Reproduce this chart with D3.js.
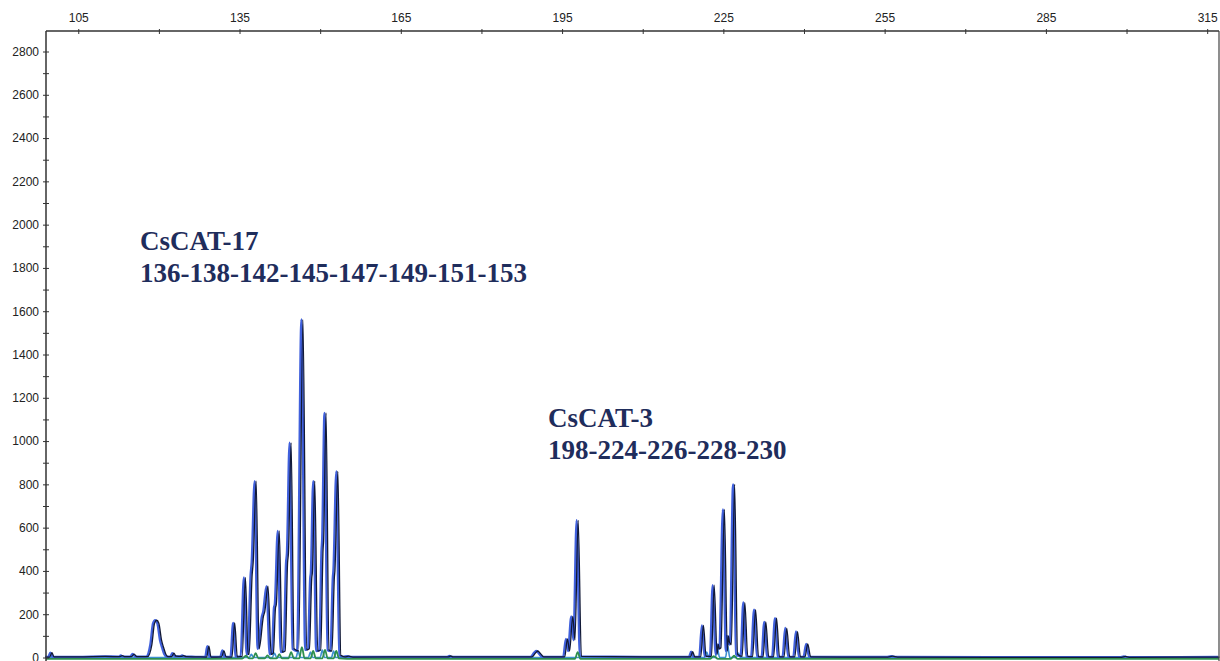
<!DOCTYPE html>
<meta charset="utf-8">
<style>
    body { margin: 0; background: #fff; }
    .axis text { font: 12px "Liberation Sans", Arial, sans-serif; fill: #222; }
    .axis path, .axis line { stroke: #333; }
    .label { font-family: "Liberation Serif", "Times New Roman", serif; font-weight: bold; fill: #1f2d5c; }
</style>
<script src="https://d3js.org/d3.v7.min.js"></script>
<div id="chart"></div>
<script>

    // size (bp) ticks on top, RFU ticks on left
    var sizeTicks = [105, 135, 165, 195, 225, 255, 285, 315];
    var sizeMinor = [120, 150, 180, 210, 240, 270, 300];
    var rfuTicks = [0, 200, 400, 600, 800, 1000, 1200, 1400, 1600, 1800, 2000, 2200, 2400, 2600, 2800];
    var rfuMinor = [100, 300, 500, 700, 900, 1100, 1300, 1500, 1700, 1900, 2100, 2300, 2500, 2700];

    // blue dye trace, [size, rfu]
    var blueTrace = [
        [99, 2], [99.6, 2], [100.0, 22], [100.4, 3], [105, 3], [110, 5],
        [112.7, 4], [113.1, 9], [113.5, 4], [114.8, 4], [115.3, 16], [115.8, 4],
        [117.8, 4], [118.6, 60], [119.1, 158], [119.5, 172], [119.9, 158], [120.4, 80], [120.8, 45], [121.2, 15], [121.6, 4],
        [122.3, 4], [122.7, 20], [123.1, 6], [124.1, 5], [124.5, 9], [125.0, 4], [127, 3],
        [128.8, 2], [129.2, 52], [129.6, 2], [131.6, 3], [132.0, 32], [132.4, 3],
        [133.5, 2], [134.0, 160], [134.5, 3],
        [135.4, 5], [136.0, 370], [136.5, 15],
        [136.7, 15], [137.25, 380], [137.45, 440], [138.0, 815], [138.55, 40],
        [139.35, 190], [139.6, 212], [140.2, 330], [140.8, 15],
        [141.2, 20], [141.6, 230], [141.75, 245], [142.3, 585], [142.85, 25],
        [143.4, 30], [143.85, 440], [144.0, 480], [144.5, 992], [145.05, 40],
        [145.9, 30], [146.7, 1562], [147.4, 35],
        [147.9, 40], [148.35, 370], [148.45, 390], [148.9, 815], [149.45, 30],
        [150.0, 35], [150.45, 500], [150.55, 540], [151.0, 1130], [151.55, 35],
        [152.1, 30], [152.55, 370], [152.65, 400], [153.2, 860], [153.75, 10],
        [154.5, 3], [155.2, 6], [156, 2], [170, 3],
        [173.8, 3], [174.2, 7], [174.6, 3],
        [189.3, 3], [190.0, 22], [190.4, 30], [190.9, 18], [191.5, 3],
        [195.4, 3], [195.9, 86], [196.3, 30], [196.9, 190], [197.3, 80], [197.9, 634], [198.5, 5],
        [210, 3], [218.8, 3], [219.2, 27], [219.6, 3],
        [220.7, 3], [221.2, 148], [221.7, 5],
        [222.7, 5], [223.2, 334], [223.75, 15], [223.95, 62], [224.15, 40], [224.45, 45],
        [225.1, 684], [225.65, 30], [225.85, 100], [226.05, 70], [226.4, 60],
        [227.0, 800], [227.55, 15],
        [228.4, 5], [228.9, 254], [229.45, 5],
        [230.35, 4], [230.9, 221], [231.45, 4],
        [232.3, 3], [232.8, 164], [233.35, 3],
        [234.25, 3], [234.8, 182], [235.35, 3],
        [236.2, 3], [236.7, 136], [237.25, 3],
        [238.2, 3], [238.7, 120], [239.25, 3],
        [240.1, 3], [240.6, 63], [241.15, 3],
        [250, 2], [255.5, 2], [256.4, 6], [257.3, 2], [275, 1],
        [299, 1], [299.7, 5], [300.4, 1], [317.2, 2]
    ];

    // light blue (stutter) trace
    var cyanTrace = [
        [99, 0], [136.8, 0], [137.2, 15], [137.6, 0], [141.1, 0], [141.5, 20], [141.9, 0],
        [145.5, 0], [145.9, 30], [146.3, 0], [147.8, 0], [148.2, 25], [148.6, 0],
        [150.0, 0], [150.4, 35], [150.8, 0], [152.1, 0], [152.5, 30], [152.9, 0],
        [221.5, 0], [221.9, 25], [222.3, 0], [223.5, 0], [223.9, 40], [224.3, 0],
        [225.4, 0], [225.8, 55], [226.2, 0], [227.4, 0], [227.8, 20], [228.2, 0], [317.2, 0]
    ];

    // green dye trace
    var greenTrace = [
        [99, -6], [130, -6], [135.5, -5], [136.2, 8], [136.8, -4], [137.5, -4], [138.0, 20], [138.5, -4],
        [139.7, -4], [140.2, 10], [140.7, -4], [141.9, -4], [142.4, 15], [142.9, -4],
        [144.1, -4], [144.6, 25], [145.1, -4], [146.1, -4], [146.6, 48], [147.1, -4],
        [148.2, -4], [148.7, 30], [149.2, -4], [150.4, -4], [150.9, 35], [151.4, -4],
        [152.5, -4], [153.0, 30], [153.5, -4], [155, -6],
        [197.4, -6], [197.9, 25], [198.4, -6],
        [222.5, -6], [223.2, 6], [224, -6], [226.4, -6], [227.0, 8], [227.6, -6], [317.2, -6]
    ];

    var width = 1220, height = 661;
    var plotTop = 31;

    var svg = d3.select("#chart")
        .append("svg")
        .attr("width", width)
        .attr("height", height);

    var x = d3.scaleLinear()
        .domain([99, 317.2])
        .range([46, 1219]);

    var y = d3.scaleLinear()
        .domain([0, 2800])
        .range([657.5, 51.5]);

    var line = d3.line()
        .x(function (d) { return x(d[0]); })
        .y(function (d) { return y(d[1]); })
        .curve(d3.curveMonotoneX);

    var plot = svg.append("g");

    plot.append("path")
        .datum(cyanTrace)
        .attr("d", line)
        .attr("fill", "none")
        .attr("stroke", "#3d8fd0")
        .attr("stroke-width", 1.6);

    plot.append("path")
        .datum(blueTrace)
        .attr("d", line)
        .attr("transform", "translate(-1,0)")
        .attr("fill", "none")
        .attr("stroke", "#4060dc")
        .attr("stroke-width", 2.4);

    plot.append("path")
        .datum(blueTrace)
        .attr("d", line)
        .attr("transform", "translate(0.5,0)")
        .attr("fill", "none")
        .attr("stroke", "#111936")
        .attr("stroke-width", 1.3);

    plot.append("path")
        .datum(greenTrace)
        .attr("d", line)
        .attr("fill", "none")
        .attr("stroke", "#2f8f4e")
        .attr("stroke-width", 1.8);

    // top axis
    var xAxis = svg.append("g")
        .attr("class", "axis")
        .attr("transform", "translate(0," + plotTop + ")")
        .call(d3.axisTop(x).tickValues(sizeTicks).tickSize(3).tickPadding(6).tickSizeOuter(0));
    var xMinor = svg.append("g")
        .attr("class", "axis")
        .attr("transform", "translate(0," + plotTop + ")")
        .call(d3.axisTop(x).tickValues(sizeMinor).tickSize(3).tickFormat("").tickSizeOuter(0));
    xMinor.select(".domain").remove();
    xAxis.selectAll(".tick line").attr("y1", 3).attr("y2", -2);
    xMinor.selectAll(".tick line").attr("y1", 3).attr("y2", -2);
    xAxis.select(".domain").attr("d", "M" + x(99) + ",0H" + x(317.2)).attr("stroke-width", 1.5);

    // left axis
    var yAxis = svg.append("g")
        .attr("class", "axis")
        .attr("transform", "translate(" + x(99) + ",0)")
        .call(d3.axisLeft(y).tickValues(rfuTicks).tickFormat(d3.format("d")).tickSize(3).tickPadding(4).tickSizeOuter(0));
    var yMinor = svg.append("g")
        .attr("class", "axis")
        .attr("transform", "translate(" + x(99) + ",0)")
        .call(d3.axisLeft(y).tickValues(rfuMinor).tickSize(3).tickFormat("").tickSizeOuter(0));
    yMinor.select(".domain").remove();
    yAxis.selectAll(".tick line").attr("x1", 3).attr("x2", -3);
    yMinor.selectAll(".tick line").attr("x1", 3).attr("x2", -3);
    yAxis.select(".domain").attr("d", "M0," + plotTop + "V" + height).attr("stroke-width", 1.5);

    // right frame
    svg.append("line")
        .attr("x1", x(317.2)).attr("x2", x(317.2))
        .attr("y1", plotTop).attr("y2", height)
        .attr("stroke", "#444").attr("stroke-width", 1.2);

    // marker annotations
    var labels = [
        { lines: ["CsCAT-17", "136-138-142-145-147-149-151-153"], px: 140, py: 250 },
        { lines: ["CsCAT-3", "198-224-226-228-230"], px: 548, py: 427 }
    ];
    labels.forEach(function (l) {
        var t = svg.append("text")
            .attr("class", "label")
            .attr("x", l.px)
            .attr("y", l.py)
            .style("font-size", "27px");
        l.lines.forEach(function (s, i) {
            t.append("tspan").attr("x", l.px).attr("dy", i ? 31.5 : 0).text(s);
        });
    });

</script>
